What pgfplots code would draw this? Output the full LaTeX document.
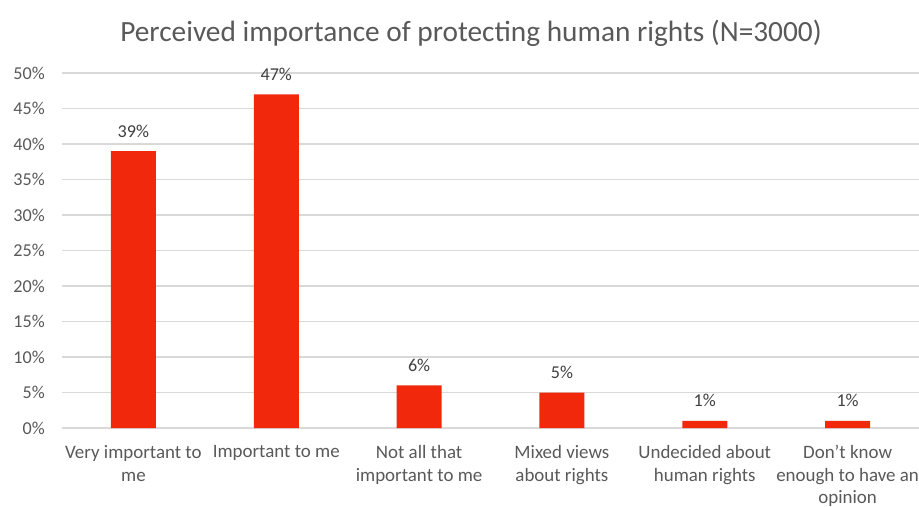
\documentclass[border=0pt]{standalone}
\usepackage{pgfplots}
\pgfplotsset{compat=1.18}
\usepackage{fontspec}
\setmainfont{Carlito}
\definecolor{barred}{RGB}{242,40,12}
\definecolor{gridgray}{RGB}{217,217,217}
\definecolor{ticktext}{RGB}{89,89,89}
\definecolor{labeltext}{RGB}{64,64,64}
\begin{document}
\begin{tikzpicture}
\useasboundingbox (-46.5pt,-58.5pt) rectangle (642.75pt,321pt);
\begin{axis}[
  at={(0,0)}, anchor=south west,
  scale only axis,
  width=642.75pt, height=266.25pt,
  xmin=-0.5, xmax=5.5,
  ymin=0, ymax=50,
  ytick={0,5,...,50},
  yticklabel={\pgfmathprintnumber{\tick}\%},
  xtick={0,1,2,3,4,5},
  xticklabels={{Very important to\\me},{Important to me},{Not all that\\important to me},{Mixed views\\about rights},{Undecided about\\human rights},{Don’t know\\enough to have an\\opinion}},
  /pgf/number format/assume math mode=true,
  axis line style={draw=none},
  major tick length=0pt,
  ymajorgrids,
  grid style={gridgray, line width=0.9pt},
  extra y ticks={0},
  extra y tick labels={},
  extra y tick style={grid style={gridgray, line width=1pt}},
  yticklabel style={anchor=east, inner sep=0pt, xshift=-12.75pt, font=\fontsize{13.6pt}{16pt}\selectfont, text=ticktext},
  xticklabel style={anchor=north, inner sep=0pt, yshift=-13pt, align=center, font=\fontsize{14.2pt}{16.8pt}\selectfont, text=ticktext},
  ybar, bar width=33.75pt,
  nodes near coords={\pgfmathprintnumber{\pgfplotspointmeta}\%},
  every node near coord/.append style={anchor=base, inner sep=0pt, yshift=10.5pt, font=\fontsize{13.6pt}{16pt}\selectfont, text=labeltext},
  clip=false,
]
\addplot[fill=barred, draw=none] coordinates {(0,39) (1,47) (2,6) (3,5) (4,1) (5,1)};
\end{axis}
\node[anchor=base, inner sep=0pt, text=ticktext, font=\fontsize{22pt}{26pt}\selectfont] at (306.75pt,289.5pt) {Perceived importance of protecting human rights (N=3000)};
\end{tikzpicture}
\end{document}
